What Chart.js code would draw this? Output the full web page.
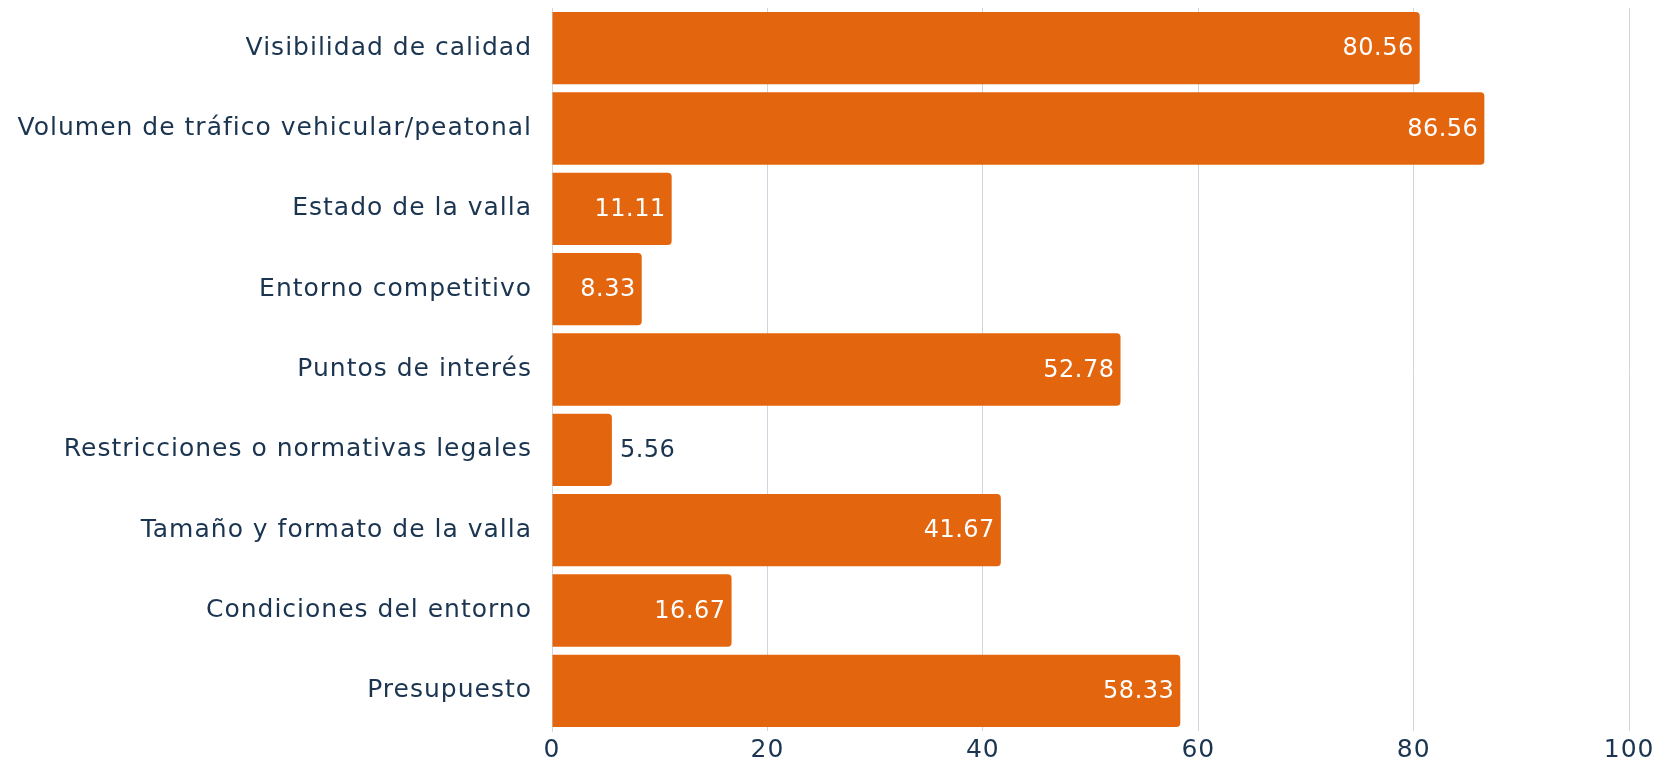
<!DOCTYPE html>
<html>
<head>
<meta charset="utf-8">
<script src="https://cdn.jsdelivr.net/npm/chart.js@4/dist/chart.umd.min.js"></script>
<style>
  html, body { margin: 0; padding: 0; background: #fff; }
  #wrap { width: 1659px; height: 764px; }
</style>
</head>
<body>
<div id="wrap"><canvas id="grafico"></canvas></div>
<script>
// criterios y porcentaje de menciones
const categorias = [
  'Visibilidad de calidad',
  'Volumen de tráfico vehicular/peatonal',
  'Estado de la valla',
  'Entorno competitivo',
  'Puntos de interés',
  'Restricciones o normativas legales',
  'Tamaño y formato de la valla',
  'Condiciones del entorno',
  'Presupuesto'
]
const valores = [80.56, 86.56, 11.11, 8.33, 52.78, 5.56, 41.67, 16.67, 58.33]
const ticksX = [0, 20, 40, 60, 80, 100]

const NARANJA = '#E3650D'
const TEXTO = '#1b3550'
const FUENTE = "'DejaVu Sans', sans-serif"

// un poco de espaciado entre letras para que el texto respire
const espaciado = {
  id: 'espaciado',
  beforeDraw(chart) { chart.ctx.letterSpacing = '1px' }
}

// etiquetas de valor: dentro de la barra en blanco, o fuera si no cabe
const etiquetas = {
  id: 'etiquetas',
  afterDatasetsDraw(chart) {
    const ctx = chart.ctx
    const meta = chart.getDatasetMeta(0)
    ctx.save()
    ctx.font = '24px ' + FUENTE
    ctx.letterSpacing = '0.5px'
    ctx.textBaseline = 'middle'
    meta.data.forEach((bar, i) => {
      const txt = valores[i].toFixed(2)
      const w = ctx.measureText(txt).width
      const ancho = bar.x - bar.base
      if (ancho > w + 14) {
        ctx.fillStyle = '#fff'
        ctx.textAlign = 'right'
        ctx.fillText(txt, bar.x - 6, bar.y + 1)
      } else {
        ctx.fillStyle = TEXTO
        ctx.textAlign = 'left'
        ctx.fillText(txt, bar.x + 8, bar.y + 1)
      }
    })
    ctx.restore()
  }
}

new Chart(document.getElementById('grafico'), {
  type: 'bar',
  data: {
    labels: categorias,
    datasets: [{
      data: valores,
      backgroundColor: NARANJA,
      borderRadius: { topRight: 4, bottomRight: 4 },
      borderSkipped: 'start',
      barPercentage: 0.9,
      categoryPercentage: 1.0
    }]
  },
  options: {
    indexAxis: 'y',
    responsive: true,
    maintainAspectRatio: false,
    animation: false,
    layout: { padding: { top: 8, right: 28, bottom: 0, left: 0 } },
    plugins: { legend: { display: false }, tooltip: { enabled: false } },
    scales: {
      x: {
        min: 0,
        max: 100,
        afterBuildTicks(scale) { scale.ticks = ticksX.map(v => ({ value: v })) },
        afterFit(scale) { scale.height = 33 },
        grid: { color: '#d0d6de', drawTicks: false },
        border: { display: false },
        ticks: { color: TEXTO, padding: 6, font: { family: FUENTE, size: 25, lineHeight: 1.06 } }
      },
      y: {
        afterFit(scale) {
          scale.width = 552
          scale.paddingTop = 0
          scale.paddingBottom = 0
        },
        grid: { display: false, drawTicks: false },
        border: { display: true, color: '#d0d6de' },
        ticks: { color: TEXTO, padding: 20, font: { family: FUENTE, size: 25 } }
      }
    }
  },
  plugins: [espaciado, etiquetas]
})
</script>
</body>
</html>
